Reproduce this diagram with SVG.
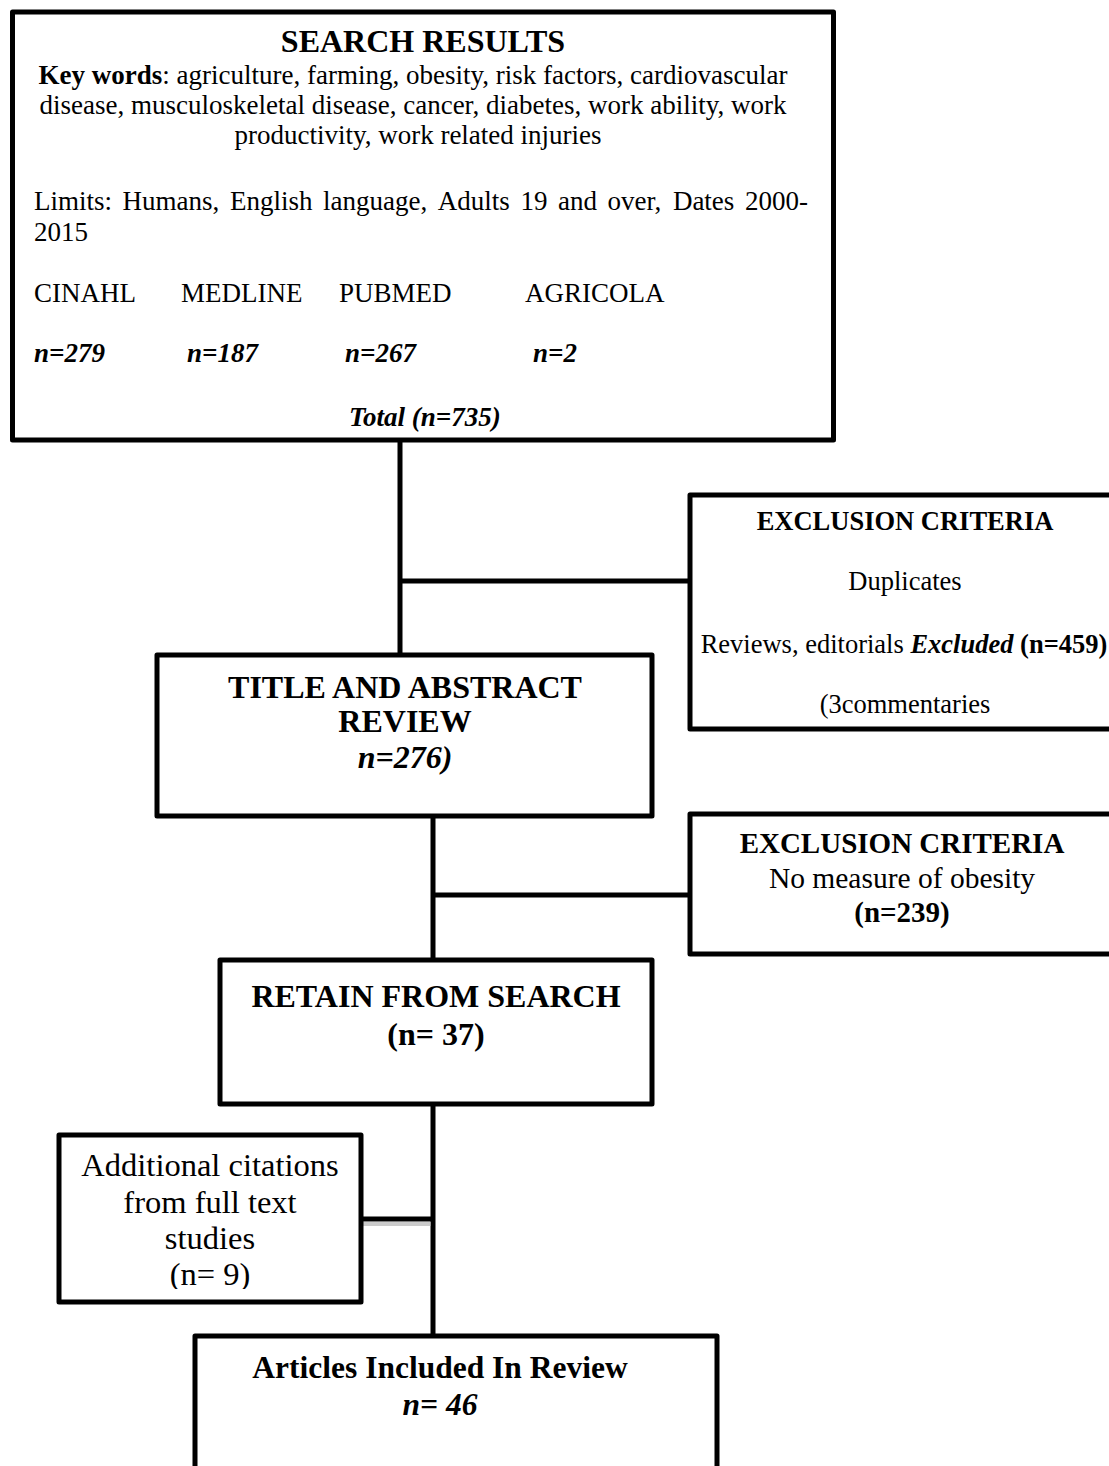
<svg xmlns="http://www.w3.org/2000/svg" width="1109" height="1466" viewBox="0 0 1109 1466">
<style>
.box{fill:#fff;stroke:#000;stroke-width:5;stroke-linejoin:round}
.ln{stroke:#000;stroke-width:5;fill:none}
text{font-family:"Liberation Serif","Times New Roman",serif;fill:#000}
.b{font-weight:bold}
.bi{font-weight:bold;font-style:italic}
.t27{font-size:27px}
.h32{font-size:32px;font-weight:bold}
.m{text-anchor:middle}
</style>
<defs>
<clipPath id="clipN9"><rect x="59" y="1135" width="302" height="154"/></clipPath>
</defs>
<rect width="1109" height="1466" fill="#fff"/>

<g id="connectors">
<line class="ln" x1="400" y1="440" x2="400" y2="655"/>
<line class="ln" x1="400" y1="581" x2="690" y2="581"/>
<line class="ln" x1="433" y1="816" x2="433" y2="960"/>
<line class="ln" x1="433" y1="895" x2="690" y2="895"/>
<line class="ln" x1="433" y1="1104" x2="433" y2="1336"/>
<line x1="362" y1="1224" x2="431" y2="1224" stroke="#aaa" stroke-width="4" opacity="0.6"/>
<line class="ln" x1="361" y1="1219" x2="433" y2="1219"/>
</g>

<g id="search-results">
<rect class="box" x="12.5" y="12" width="821" height="428"/>
<text class="m b" x="423" y="52" font-size="32">SEARCH RESULTS</text>
<text class="t27 m" x="413" y="84"><tspan class="b">Key words</tspan>: agriculture, farming, obesity, risk factors, cardiovascular</text>
<text class="t27 m" x="413" y="114">disease, musculoskeletal disease, cancer, diabetes, work ability, work</text>
<text class="t27 m" x="418" y="144">productivity, work related injuries</text>
<text class="t27" y="210"><tspan x="34">Limits:</tspan><tspan x="122.6">Humans,</tspan><tspan x="229.9">English</tspan><tspan x="323">language,</tspan><tspan x="437.8">Adults</tspan><tspan x="520.4">19</tspan><tspan x="558">and</tspan><tspan x="607.6">over,</tspan><tspan x="672.9">Dates</tspan><tspan x="745">2000-</tspan></text>
<text class="t27" x="34" y="241">2015</text>
<text class="t27" y="302"><tspan x="34">CINAHL</tspan><tspan x="181">MEDLINE</tspan><tspan x="339">PUBMED</tspan><tspan x="525">AGRICOLA</tspan></text>
<text class="t27 bi" y="362"><tspan x="34">n=279</tspan><tspan x="187">n=187</tspan><tspan x="345">n=267</tspan><tspan x="533">n=2</tspan></text>
<text class="t27 bi" x="349" y="426">Total (n=735)</text>
</g>

<g id="exclusion-1">
<rect class="box" x="690" y="495" width="425" height="234"/>
<text class="m b" x="905" y="530" font-size="26.5">EXCLUSION CRITERIA</text>
<text class="m" x="905" y="590" font-size="26.5">Duplicates</text>
<text class="m" x="904" y="653" font-size="26.5">Reviews, editorials <tspan class="bi">Excluded</tspan> <tspan class="b">(n=459)</tspan></text>
<text class="m" x="905" y="713" font-size="26.5">(3commentaries</text>
</g>

<g id="title-abstract">
<rect class="box" x="157" y="655" width="495" height="161"/>
<text class="m h32" x="405" y="698">TITLE AND ABSTRACT</text>
<text class="m h32" x="405" y="732">REVIEW</text>
<text class="m h32" x="405" y="768" font-style="italic">n=276)</text>
</g>

<g id="exclusion-2">
<rect class="box" x="690" y="814" width="425" height="140"/>
<text class="m b" x="902" y="853" font-size="29">EXCLUSION CRITERIA</text>
<text class="m" x="902" y="888" font-size="29.5">No measure of obesity</text>
<text class="m b" x="902" y="922" font-size="29">(n=239)</text>
</g>

<g id="retain">
<rect class="box" x="220" y="960" width="432" height="144"/>
<text class="m h32" x="436" y="1007">RETAIN FROM SEARCH</text>
<text class="m h32" x="436" y="1045">(n= 37)</text>
</g>

<g id="additional">
<rect class="box" x="59" y="1135" width="302" height="167"/>
<text class="m" x="210" y="1176" font-size="32.5">Additional citations</text>
<text class="m" x="210" y="1213" font-size="32.5">from full text</text>
<text class="m" x="210" y="1249" font-size="32.5">studies</text>
<text class="m" x="210" y="1285" font-size="32.5" clip-path="url(#clipN9)">(n= 9)</text>
</g>

<g id="articles">
<rect class="box" x="195" y="1336" width="522" height="150"/>
<text class="m b" x="440" y="1378" font-size="31.5">Articles Included In Review</text>
<text class="m bi" x="440" y="1415" font-size="31.5">n= 46</text>
</g>
</svg>
